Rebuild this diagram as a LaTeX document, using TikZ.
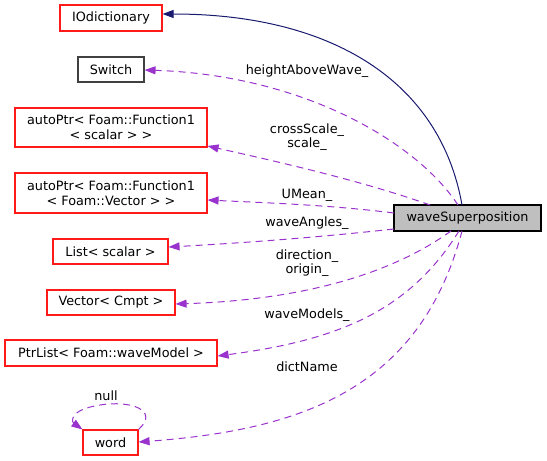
\documentclass[tikz,border=0pt]{standalone}
\usepackage{fontspec}
\setmainfont{DejaVu Sans}
\usetikzlibrary{arrows.meta}
\definecolor{edgep}{HTML}{9A32CD}
\definecolor{navyb}{HTML}{191970}
\definecolor{boxred}{HTML}{FF1A1A}
\begin{document}
\begin{tikzpicture}[x=1pt,y=-1pt,
  every node/.style={font=\fontsize{12.8}{15}\selectfont, inner sep=0pt, align=center},
  redbox/.style={draw=boxred, line width=1.15pt, fill=white},
  graybox/.style={draw=black!75, line width=1.15pt, fill=white},
  mainbox/.style={draw=black, line width=1.15pt, fill=black!25},
  dep/.style={edgep, line width=1pt, dash pattern=on 7pt off 5pt, -{Triangle[length=11pt,width=8pt]}},
  inh/.style={navyb, line width=1pt, -{Triangle[length=11pt,width=8pt]}},
  lbl/.style={font=\fontsize{12.8}{14.5}\selectfont}]
\useasboundingbox (0,0) rectangle (547,461);
\node[redbox, minimum width=102pt, minimum height=26pt] (iod) at (111,18) {IOdictionary};
\node[graybox, minimum width=66pt, minimum height=25pt] (sw) at (111,69.5) {Switch};
\node[redbox, minimum width=192pt, minimum height=39pt] (aps) at (111,127.5) {autoPtr< Foam::Function1\\< scalar > >};
\node[redbox, minimum width=192pt, minimum height=40pt] (apv) at (111,193) {autoPtr< Foam::Function1\\< Foam::Vector > >};
\node[redbox, minimum width=115pt, minimum height=25pt] (lst) at (110.5,251.5) {List< scalar >};
\node[redbox, minimum width=128pt, minimum height=25pt] (vec) at (111,302.5) {Vector< Cmpt >};
\node[redbox, minimum width=212pt, minimum height=26pt] (ptr) at (111,353) {PtrList< Foam::waveModel >};
\node[redbox, minimum width=55pt, minimum height=25pt] (wrd) at (110.5,442.5) {word};
\node[mainbox, minimum width=147pt, minimum height=26pt] (ws) at (467.5,218) {waveSuperposition};

\coordinate (w1) at (462,205);
\coordinate (w2) at (458,205);
\coordinate (w3) at (430,205);
\coordinate (w4) at (394,213);
\coordinate (w5) at (394,229);
\coordinate (w6) at (451,231);
\coordinate (w7) at (459,231);
\coordinate (w8) at (462,231);

\draw[inh] (w1) .. controls (440,80) and (330,14) .. (iod.east |- 0,14);
\draw[dep] (w2) .. controls (415,140) and (300,75) .. (sw.east |- 0,70);
\draw[dep] (w3) .. controls (360,180) and (270,160) .. (aps.east |- 0,146);
\draw[dep] (w4) .. controls (330,205) and (270,203) .. (apv.east |- 0,200);
\draw[dep] (w5) .. controls (330,236) and (260,242) .. (lst.east |- 0,247);
\draw[dep] (w6) .. controls (390,275) and (300,300) .. (vec.east |- 0,304);
\draw[dep] (w7) .. controls (410,310) and (340,340) .. (ptr.east |- 0,356);
\draw[dep] (w8) .. controls (420,390) and (300,430) .. (wrd.east |- 0,442);
\draw[dep] (wrd.north east) .. controls (160,410) and (130,400) .. (100,405) .. controls (68,410) and (72,422) .. (wrd.north west);

\node[lbl] (l1) at (307,71) {heightAboveWave\_};
\node[lbl] (l2) at (307,137) {crossScale\_\\scale\_};
\node[lbl] (l3) at (307,195) {UMean\_};
\node[lbl] (l4) at (307,223) {waveAngles\_};
\node[lbl] (l5) at (307,263) {direction\_\\origin\_};
\node[lbl] (l6) at (307,315) {waveModels\_};
\node[lbl] (l7) at (307,367) {dictName};
\node[lbl] (l8) at (106,396) {null};
\end{tikzpicture}
\end{document}
